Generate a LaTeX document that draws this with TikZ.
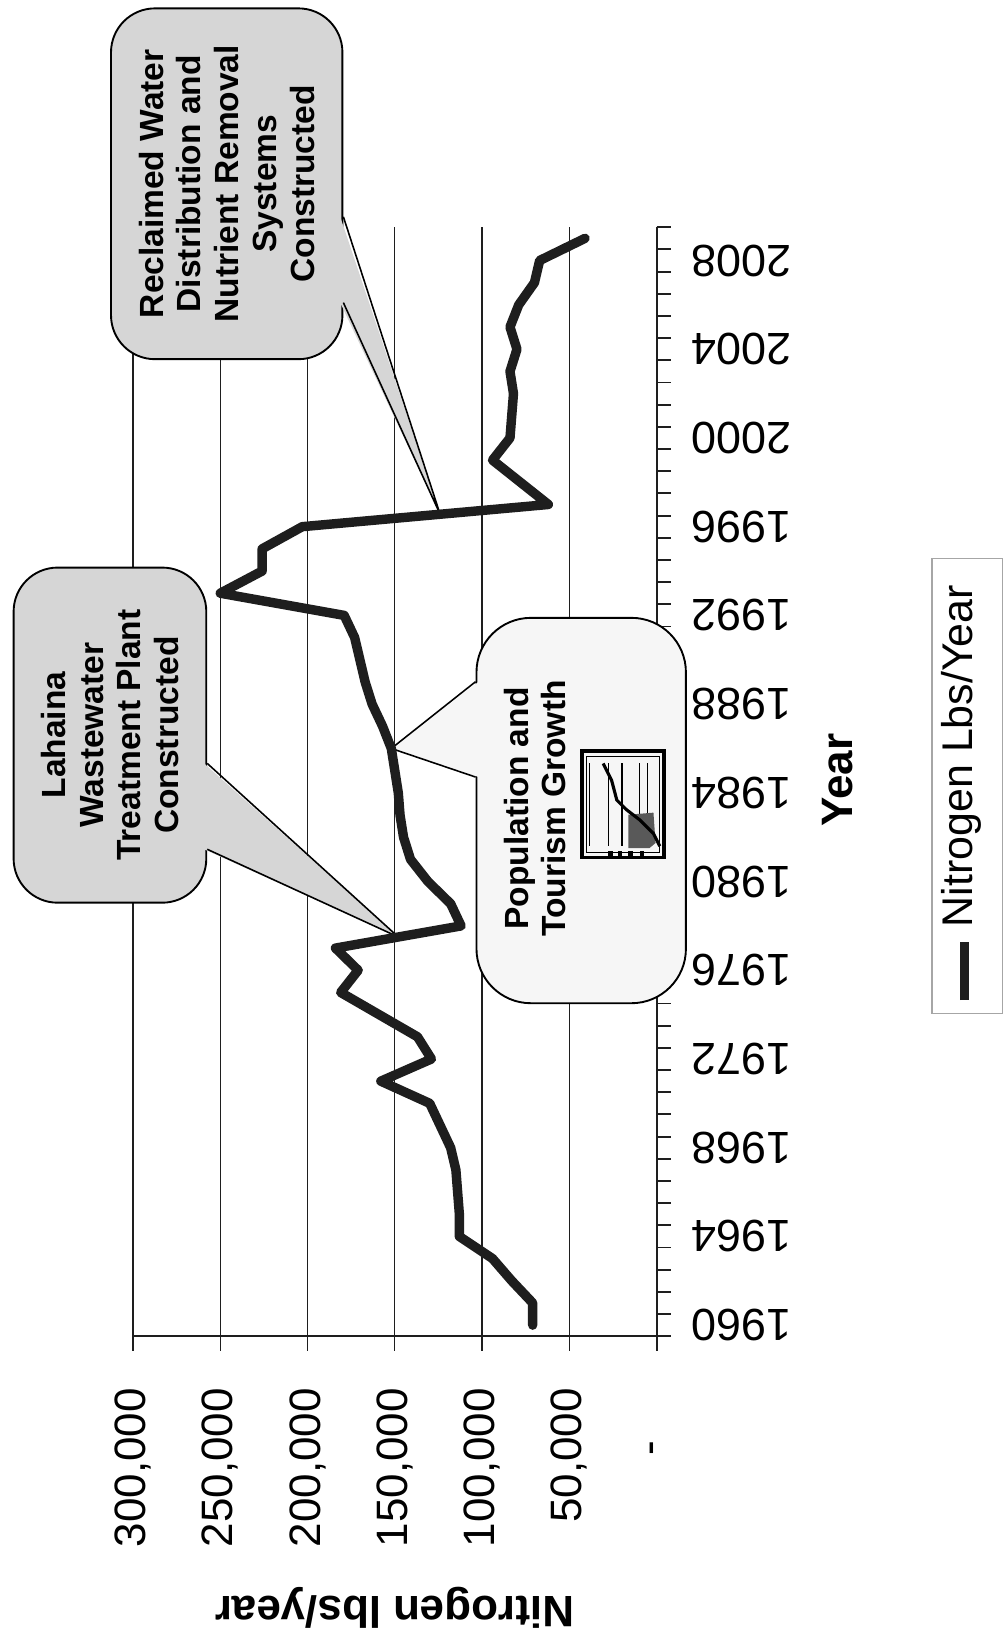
\documentclass[tikz,border=0pt]{standalone}
\usepackage{fontspec}
\setmainfont{Liberation Sans}
\usepackage{xcolor}
\usepackage{tikz}
\usetikzlibrary{calc}

\definecolor{calloutgray}{RGB}{214,214,214}
\definecolor{popgray}{RGB}{246,246,246}
\definecolor{inkblack}{RGB}{30,30,30}

\begin{document}
\begin{tikzpicture}[
        x = 1pt, y = -1pt,
        grid/.style = {draw=inkblack, line width=1.3pt},
        axis/.style = {draw=inkblack, line width=1.8pt},
        dataline/.style = {draw=inkblack, line width=9pt, line join=round, line cap=round},
        callout/.style = {draw=black, line width=1.8pt, rounded corners=42pt, fill=calloutgray, inner sep=0pt},
        notetext/.style = {rotate=90, align=center, font=\bfseries\fontsize{32}{36}\selectfont},
        vallabel/.style = {rotate=90, anchor=east, font=\fontsize{42}{48}\selectfont},
        yearlabel/.style = {rotate=180, font=\fontsize{43}{48}\selectfont},
        axistitle/.style = {font=\bfseries\fontsize{42}{48}\selectfont},
    ]
    \tikzstyle{pointer} = [draw=black, line width=1.5pt];
    \useasboundingbox (0,0) rectangle (960,1568);
    \fill[white] (0,0) rectangle (960,1568);

    % gridlines, ticks and value labels
    \foreach \v in {50,100,...,300} {
        \draw[grid] ({627-\v*5/3},217) -- ({627-\v*5/3},1290);
        \node[vallabel] (v\v) at ({627-\v*5/3},1322) {\v,000};
    }
    \node[vallabel, anchor=center] (v0) at (627,1383) {-};

    % axes
    \draw[axis] (127,1276) -- (627,1276) -- (627,1290);
    \draw[axis] (627,1276) -- (627,217);
    \foreach \k in {0,...,50}
        \draw[axis] (627,{1276-\k*21.18}) -- (641,{1276-\k*21.18});
    \foreach \yr in {1960,1964,...,2008}
        \node[yearlabel] (y\yr) at (708,{1276-(\yr-1959.5)*21.18}) {\yr};

    \node[axistitle, rotate=180] (valtitle) at (377,1535) {Nitrogen lbs/year};
    \node[axistitle, rotate=90] (yeartitle) at (800,745) {Year};

    % data, thousands of lbs per year
    \foreach \yr/\v in {1960/71, 1961/71, 1962/83, 1963/94, 1964/113, 1965/113,
                        1966/114, 1967/115, 1968/118, 1969/124, 1970/130, 1971/158,
                        1972/129, 1973/137, 1974/159, 1975/181, 1976/171, 1977/184,
                        1978/112, 1979/118, 1980/131, 1981/141, 1982/145, 1983/147,
                        1984/148, 1985/150, 1986/152, 1987/157, 1988/163, 1989/167,
                        1990/170, 1991/173, 1992/179, 1993/250, 1994/226, 1995/226,
                        1996/203, 1997/62, 1998/78, 1999/94, 2000/84, 2001/83,
                        2002/82, 2003/84, 2004/80, 2005/84, 2006/79, 2007/70,
                        2008/67, 2009/41}
        \coordinate (n\yr) at ({627-\v*5/3},{1276-(\yr-1959.5)*21.18});

    % callouts
    \node[callout, minimum width=221pt, minimum height=335pt] (reclaim) at (216.5,175.5) {};
    \coordinate (reclaimtip) at ($(n1996)!0.56!(n1997)$);
    \fill[calloutgray] ($(reclaim.east)+(-3,31.5)$) -- (reclaimtip) -- ($(reclaim.east)+(-3,113.5)$) -- cycle;
    \draw[pointer] ($(reclaim.east)+(0,31.5)$) -- (reclaimtip) -- ($(reclaim.east)+(0,113.5)$);
    \node[notetext] (reclaimtext) at (reclaim.center) {Reclaimed Water\\Distribution and\\Nutrient Removal\\Systems\\Constructed};

    \node[callout, minimum width=184pt, minimum height=320pt] (lahaina) at (105,702) {};
    \coordinate (lahainatip) at ($(n1977)!0.5!(n1978)$);
    \fill[calloutgray] ($(lahaina.east)+(-3,27)$) -- (lahainatip) -- ($(lahaina.east)+(-3,109)$) -- cycle;
    \draw[pointer] ($(lahaina.east)+(0,27)$) -- (lahainatip) -- ($(lahaina.east)+(0,109)$);
    \node[notetext] (lahainatext) at (lahaina.center) {Lahaina\\Wastewater\\Treatment Plant\\Constructed};

    \node[callout, fill=popgray, rounded corners=52pt, minimum width=200pt, minimum height=368pt] (growth) at (555,774) {};
    \coordinate (growthtip) at (n1986);
    \fill[popgray] ($(growth.west)+(3,-123)$) -- (growthtip) -- ($(growth.west)+(3,-32)$) -- cycle;
    \draw[pointer] ($(growth.west)+(0,-123)$) -- (growthtip) -- ($(growth.west)+(0,-32)$);
    \node[notetext] (growthtext) at (511,772) {Population and\\Tourism Growth};

    % little chart picture
    \draw[line width=3.5pt] (556,717) rectangle (634,819);
    \draw[line width=1pt] (560,722) rectangle (630,814);
    \foreach \x in {563,581,594,611,618}
        \draw[line width=1.2pt] (\x,729) -- (\x,808);
    \fill[gray!70!black] (600,778) -- (624,776) -- (626,805) -- (620,810) -- (600,810) -- cycle;
    \draw[line width=3pt] (576,729) -- (584,745) -- (589,764) -- (598,773) -- (611,783) -- (624,796) -- (630,808);
    \foreach \x in {583,592,602,613}
        \fill (\x-2,813) rectangle (\x+2,817);

    % nitrogen line
    \draw[dataline] (n1960) \foreach \yr in {1961,...,2009} { -- (n\yr) };

    % legend
    \node[draw=gray!70, line width=1pt, minimum width=67pt, minimum height=435pt, inner sep=0pt] (legend) at (923.5,750.5) {};
    \draw[dataline, line cap=butt] (921,955) -- (921,900);
    \node[rotate=90, font=\fontsize{41}{46}\selectfont] (legendtext) at (918,722) {Nitrogen Lbs/Year};
\end{tikzpicture}
\end{document}
